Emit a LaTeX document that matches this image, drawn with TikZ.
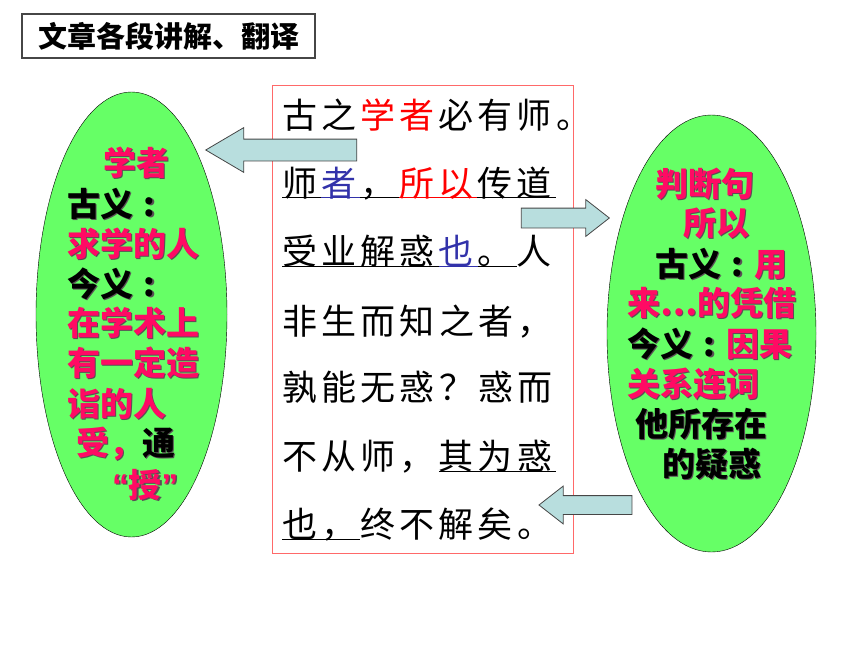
\documentclass[tikz,border=0pt]{standalone}
\usepackage{fontspec}
\usetikzlibrary{shapes.geometric,shapes.arrows}

\newfontfamily\cjk{Noto Sans CJK SC}
\newfontfamily\lat{Liberation Sans}

\definecolor{ellgreen}{RGB}{102,255,102}
\definecolor{pk}{RGB}{255,10,100}
\definecolor{shdgray}{RGB}{90,80,85}
\definecolor{arrfill}{RGB}{184,222,222}
\definecolor{arrdraw}{RGB}{70,70,70}
\definecolor{boxred}{RGB}{255,105,105}
\definecolor{navyblue}{RGB}{50,50,170}

% text with a small drop shadow
\newcommand\shd[2]{\rlap{\kern1.5pt\raisebox{-1.5pt}{\textcolor{shdgray}{#2}}}\textcolor{#1}{#2}}
% gap lost where a run of letter-spaced text is cut
\newcommand\ls{\kern4pt}
% coloured underline
\newcommand\ulc[2]{\textcolor{#1}{\underline{\smash{#2\ls}}}}
% centred colon
\newcommand\ccolon{\makebox[1em]{:}}

\begin{document}
\begin{tikzpicture}[
    x=1pt, y=-1pt,
    ell/.style={ellipse, draw=black, thin, fill=ellgreen, inner sep=0},
    eline/.style={anchor=base west, inner sep=0, font=\cjk\bfseries\fontsize{33}{36}\selectfont},
    pline/.style={anchor=base west, inner sep=0, font=\cjk\fontsize{35}{40}\selectfont\addfontfeatures{LetterSpace=12}},
    blockarr/.style={single arrow, draw=arrdraw, fill=arrfill, line width=0.8pt, inner xsep=0},
]
\useasboundingbox (0,0) rectangle (860,645);

% Заголовок
\node[draw=arrdraw, line width=1.2pt, minimum width=293, minimum height=44, inner sep=0,
      font=\cjk\bfseries\fontsize{29}{30}\selectfont] (title) at (168.5,36) {文章各段讲解、翻译};

% Левый эллипс: 学者
\node[ell, minimum width=191, minimum height=445] (xzEll) at (131.5,314.5) {};
\node[eline] (xz1) at (103,175) {\shd{pk}{学者}};
\node[eline] (xz2) at (67,216) {\shd{black}{古义\ccolon}};
\node[eline] (xz3) at (67,256) {\shd{pk}{求学的人}};
\node[eline] (xz4) at (67,296) {\shd{black}{今义\ccolon}};
\node[eline] (xz5) at (67,335) {\shd{pk}{在学术上}};
\node[eline] (xz6) at (67,375) {\shd{pk}{有一定造}};
\node[eline] (xz7) at (67,416) {\shd{pk}{诣的人}};
\node[eline] (xz8) at (76,455) {\shd{pk}{受，}\shd{black}{通}};
\node[eline] (xz9) at (112,497) {\shd{pk}{{\lat“}授{\lat”}}};

% Правый эллипс: 所以
\node[ell, minimum width=209, minimum height=437] (syEll) at (711.5,333.5) {};
\node[eline] (sy1) at (655,196) {\shd{pk}{判断句}};
\node[eline] (sy2) at (683,235) {\shd{pk}{所以}};
\node[eline] (sy3) at (655,276) {\shd{black}{古义\ccolon}\shd{pk}{用}};
\node[eline] (sy4) at (627,315) {\shd{pk}{来…的凭借}};
\node[eline] (sy5) at (627,356) {\shd{black}{今义\ccolon}\shd{pk}{因果}};
\node[eline] (sy6) at (627,396) {\shd{pk}{关系连词}};
\node[eline] (sy7) at (635,436) {\shd{black}{他所存在}};
\node[eline] (sy8) at (662,476) {\shd{black}{的疑惑}};

% Текст в середине
\node[draw=boxred, fill=white, minimum width=301, minimum height=468] (passage) at (422.5,319) {};
\node[pline] (p1) at (282,128.5) {古之\ls\textcolor{red}{学者}\ls 必有师。};
\node[pline] (p2) at (282,196) {\ulc{black}{师}\ulc{navyblue}{者}\ulc{black}{，}\ulc{red}{所以}\ulc{black}{传道}};
\node[pline] (p3) at (282,264.5) {\ulc{black}{受业解惑}\ulc{navyblue}{也}\ulc{black}{。}人};
\node[pline] (p4) at (282,334) {非生而知之者，};
\node[pline] (p5) at (282,400.5) {孰能无惑？惑而};
\node[pline] (p6) at (282,469.5) {不从师，\ls\ulc{black}{其为惑}};
\node[pline] (p7) at (282,537.5) {\ulc{black}{也，}终不解矣。};

% Стрелки
\node[blockarr, minimum height=151, inner ysep=10.5, single arrow head extend=11.5,
      single arrow tip angle=61, shape border rotate=180] (arrXz) at (290.5,150) {};
\node[blockarr, minimum height=88, inner ysep=9.5, single arrow head extend=8.5,
      single arrow tip angle=76] (arrSy) at (559,218) {};
\node[blockarr, minimum height=93, inner ysep=9, single arrow head extend=9.5,
      single arrow tip angle=76, shape border rotate=180] (arrYh) at (591.5,505) {};

\end{tikzpicture}
\end{document}
